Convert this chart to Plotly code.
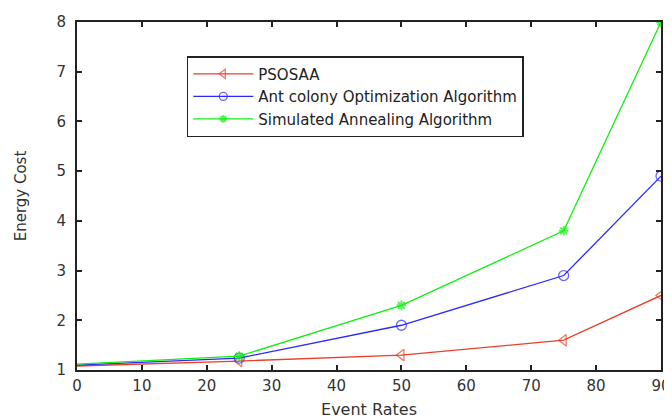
import plotly.graph_objects as go

event_rates = [0, 25, 50, 75, 90]
psosaa = [1.08, 1.18, 1.3, 1.6, 2.5]
ant_colony = [1.1, 1.24, 1.9, 2.9, 4.9]
simulated_annealing = [1.12, 1.28, 2.3, 3.8, 8.0]

x_ticks = [0, 10, 20, 30, 40, 50, 60, 70, 80, 90]
y_ticks = [1, 2, 3, 4, 5, 6, 7, 8]

msize = [0, 10, 10, 10, 10]
FONT = "DejaVu Sans, Liberation Sans, Arial"

fig = go.Figure()
fig.add_trace(go.Scatter(x=event_rates, y=psosaa, name="PSOSAA", mode="lines+markers",
                         line=dict(color="#e8402a", width=1.3),
                         marker=dict(symbol="triangle-left-open", size=msize, color="#e8402a", line=dict(width=1.3))))
fig.add_trace(go.Scatter(x=event_rates, y=ant_colony, name="Ant colony Optimization Algorithm", mode="lines+markers",
                         line=dict(color="#2a2aff", width=1.3),
                         marker=dict(symbol="circle-open", size=msize, color="#2a2aff", line=dict(width=1.3))))
fig.add_trace(go.Scatter(x=event_rates, y=simulated_annealing, name="Simulated Annealing Algorithm", mode="lines+markers",
                         line=dict(color="#10f010", width=1.3),
                         marker=dict(symbol="asterisk-open", size=[0, 8, 8, 8, 8], color="#10f010", line=dict(width=2))))

axis_common = dict(showgrid=False, zeroline=False, showline=True, linecolor="#222", linewidth=1.8,
                   mirror="ticks", ticks="inside", ticklen=5, tickcolor="#222", tickwidth=1.5,
                   automargin=False,
                   tickfont=dict(family=FONT, size=15, color="#333"))

fig.update_xaxes(range=[0, 90], tickvals=x_ticks, ticklabelstandoff=1,
                 title=dict(text="Event Rates", font=dict(family=FONT, size=16, color="#333"), standoff=10),
                 **axis_common)
fig.update_yaxes(range=[1, 8], tickvals=y_ticks, ticklabelstandoff=6,
                 title=dict(text="Energy Cost", font=dict(family=FONT, size=15, color="#333"), standoff=26),
                 **axis_common)

fig.update_layout(
    width=664, height=411,
    margin=dict(l=69, r=11, t=14, b=49),
    paper_bgcolor="white", plot_bgcolor="white",
    showlegend=True,
    legend=dict(x=0.188, y=0.902, xanchor="left", yanchor="top",
                bordercolor="#222", borderwidth=1.5, bgcolor="white",
                font=dict(family=FONT, size=15, color="#222"),
                tracegroupgap=0, itemwidth=60),
)

fig.write_html("out.html")
